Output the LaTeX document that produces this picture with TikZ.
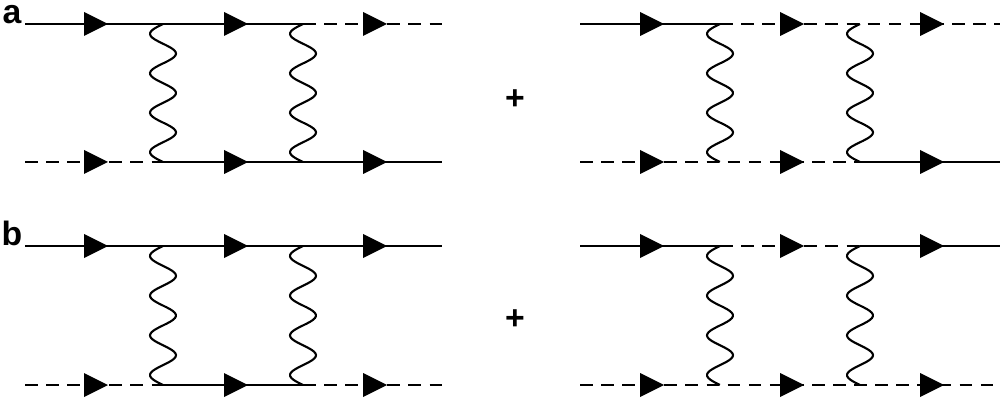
\documentclass[tikz,border=0pt]{standalone}
\usepackage{fontspec}
\setmainfont{Liberation Sans}
\begin{document}
\begin{tikzpicture}[x=0.025cm,y=-0.025cm,
  fer/.style={line width=1.1pt},
  sca/.style={line width=1.1pt,dash pattern=on 9pt off 6pt},
  pho/.style={line width=1.5pt},
  lbl/.style={font=\bfseries\fontsize{24}{24}\selectfont,inner sep=0pt}]
\useasboundingbox (0,0) rectangle (1000,400);
\newcommand\arrw[2]{\fill (#1-12,#2-12) -- (#1+12,#2) -- (#1-12,#2+12) -- cycle;}
\newcommand\wave[3]{\draw[pho,smooth] plot[domain=0:1,samples=80] ({#1-13*sin(1260*\x)},{#2+(#3-#2)*\x});}
\newcommand\seg[4]{\draw[#1] (#2,#4) -- (#3,#4);}
% panel a left
\seg{fer}{25}{303}{24}\seg{sca}{303}{442}{24}
\seg{sca}{25}{163}{162}\seg{fer}{163}{442}{162}
% panel a right
\seg{fer}{580}{720}{24}\seg{sca}{720}{1000}{24}
\seg{sca}{580}{860}{162}\seg{fer}{860}{1000}{162}
% panel b left
\seg{fer}{25}{442}{246}
\seg{sca}{25}{163}{385}\seg{fer}{163}{303}{385}\seg{sca}{303}{442}{385}
% panel b right
\seg{fer}{580}{720}{246}\seg{sca}{720}{860}{246}\seg{fer}{860}{1000}{246}
\seg{sca}{580}{1000}{385}
\foreach \yy in {24,162,246,385}{
  \foreach \xx in {96,236,375,652,792,932}{\arrw{\xx}{\yy}}}
\wave{163}{24}{162}\wave{303}{24}{162}\wave{720}{24}{162}\wave{860}{24}{162}
\wave{163}{246}{385}\wave{303}{246}{385}\wave{720}{246}{385}\wave{860}{246}{385}
\node[lbl] (la) at (12,15) {a};
\node[lbl] (lb) at (12,233) {b};
\node[lbl] (p1) at (515,100) {+};
\node[lbl] (p2) at (515,320) {+};
\end{tikzpicture}
\end{document}
